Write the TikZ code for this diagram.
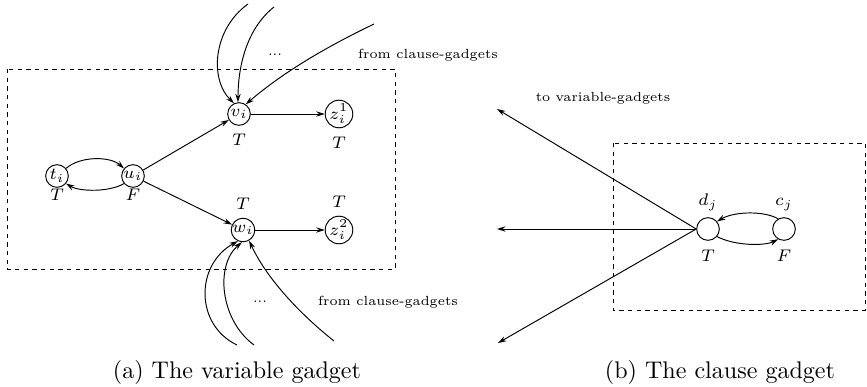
\documentclass[tikz,border=0pt]{standalone}
\usepackage{amsmath}
\usetikzlibrary{positioning,arrows.meta}

\begin{document}
\begin{tikzpicture}[
    x=0.0146cm, y=-0.0146cm,
    state/.style={circle, draw, minimum size=9.4pt, inner sep=0pt, font=\scriptsize},
    val/.style={inner sep=0.5pt, font=\scriptsize},
    note/.style={inner sep=0pt, font=\fontsize{5.5}{6.5}\selectfont},
    edge/.style={-{Stealth[length=3.5pt,width=2.2pt]}},
    gadget/.style={draw, dash pattern=on 1.8pt off 1.8pt}
]
    \useasboundingbox (0,0) rectangle (867,387);

    % (a) the variable gadget
    \draw[gadget] (7,69) rectangle (395,269);
    \node[state] (t) at (57,176) {$t_i$};
    \node[state] (u) at (133,176) {$u_i$};
    \node[state] (v) at (239,114) {$v_i$};
    \node[state] (z1) at (339,114) {$z_i^1$};
    \node[state] (w) at (243,230) {$w_i$};
    \node[state] (z2) at (339,230) {$z_i^2$};

    \node[val, below=0pt of t] (tt) {$T$};
    \node[val, below=0pt of u] (tu) {$F$};
    \node[val, below=2.8pt of v] (tv) {$T$};
    \node[val, below=2.8pt of z1] (tz1) {$T$};
    \node[val, above=2.8pt of w] (tw) {$T$};
    \node[val, above=2.8pt of z2] (tz2) {$T$};

    \draw[edge] (t.40) .. controls (80,156) and (110,156) .. (u.140);
    \draw[edge] (u.220) .. controls (110,192) and (80,192) .. (t.320);
    \draw[edge] (u) -- (v);
    \draw[edge] (u) -- (w);
    \draw[edge] (v) -- (z1);
    \draw[edge] (w) -- (z2);

    % incoming from clause-gadgets
    \coordinate (in1) at (248,4);
    \coordinate (in2) at (274,7);
    \coordinate (in3) at (374,24);
    \draw[edge] (in1) .. controls (212,30) and (210,80) .. (v.115);
    \draw[edge] (in2) .. controls (245,30) and (238,70) .. (v.95);
    \draw[edge] (in3) .. controls (320,50) and (280,75) .. (v.55);
    \node[note] (dots1) at (275,55) {...};
    \node[note] (from1) at (428,55) {from clause-gadgets};

    \coordinate (in4) at (237,345);
    \coordinate (in5) at (254,345);
    \coordinate (in6) at (334,341);
    \draw[edge] (in4) .. controls (195,325) and (195,265) .. (w.245);
    \draw[edge] (in5) .. controls (220,320) and (215,265) .. (w.265);
    \draw[edge] (in6) .. controls (295,310) and (265,275) .. (w.300);
    \node[note] (dots2) at (260,302) {...};
    \node[note] (from2) at (388,302) {from clause-gadgets};

    \node (capa) at (237,372) {(a) The variable gadget};

    % (b) the clause gadget
    \draw[gadget] (613,143) rectangle (865,310);
    \node[state] (d) at (708,229) {};
    \node[state] (c) at (784,229) {};
    \node[val, above=2pt of d] (ld) {$d_j$};
    \node[val, above=2pt of c] (lc) {$c_j$};
    \node[val, below=3.1pt of d] (td) {$T$};
    \node[val, below=3.1pt of c] (tc) {$F$};

    \draw[edge] (c.120) .. controls (765,211) and (735,211) .. (d.40);
    \draw[edge] (d.-40) .. controls (735,246) and (765,246) .. (c.-120);

    \coordinate (out1) at (497,109);
    \coordinate (out2) at (497,229);
    \coordinate (out3) at (498,343);
    \draw[edge] (d.west) -- (out1);
    \draw[edge] (d.west) -- (out2);
    \draw[edge] (d.west) -- (out3);
    \node[note] (to) at (603,98) {to variable-gadgets};

    \node (capb) at (720,372) {(b) The clause gadget};
\end{tikzpicture}
\end{document}
